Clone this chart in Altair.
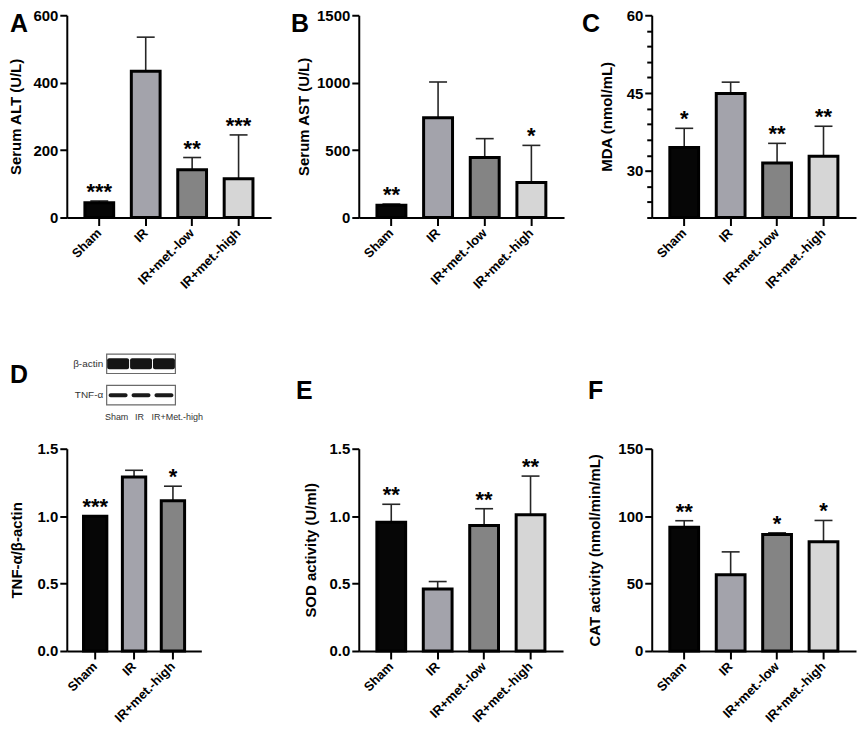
import altair as alt
import pandas as pd

FONT = "Liberation Sans"
BLOT_FONT = "Liberation Sans Narrow, Liberation Sans, sans-serif"

# ---------------- categories ----------------
groups4 = ["Sham", "IR", "IR+met.-low", "IR+met.-high"]
groups3 = ["Sham", "IR", "IR+met.-high"]
colors4 = ["#060606", "#a3a3ab", "#848484", "#d6d6d6"]
colors3 = ["#060606", "#a3a3ab", "#848484"]

# ---------------- panel A: serum ALT ----------------
alt_mean = [44, 434, 142, 115]
alt_err = [49, 535, 178, 245]
alt_stars = ["***", "", "**", "***"]
alt_ticks = [0, 200, 400, 600]

# ---------------- panel B: serum AST ----------------
ast_mean = [91, 740, 445, 260]
ast_err = [100, 1005, 585, 535]
ast_stars = ["**", "", "", "*"]
ast_ticks = [0, 500, 1000, 1500]

# ---------------- panel C: MDA ----------------
mda_mean = [34.5, 44.9, 31.5, 32.8]
mda_err = [38.2, 47.1, 35.3, 38.6]
mda_stars = ["*", "", "**", "**"]
mda_ticks = [21, 24, 27, 30, 33, 36, 39, 42, 45, 48, 51, 54, 57, 60]

# ---------------- panel D: TNF-a / b-actin ----------------
tnf_mean = [1.0, 1.29, 1.115]
tnf_err = [1.0, 1.34, 1.222]
tnf_stars = ["***", "", "*"]
ratio_ticks = [0, 0.5, 1.0, 1.5]

# ---------------- panel E: SOD ----------------
sod_mean = [0.955, 0.46, 0.93, 1.01]
sod_err = [1.088, 0.515, 1.055, 1.297]
sod_stars = ["**", "", "**", "**"]

# ---------------- panel F: CAT ----------------
cat_mean = [91.7, 56.5, 86.3, 81.0]
cat_err = [96.6, 73.5, 87.6, 96.8]
cat_stars = ["**", "", "*", "*"]
cat_ticks = [0, 50, 100, 150]

# ---------------- western blot inset ----------------
lanes = ["Sham", "IR", "IR+Met.-high"]
lane_pos = [1, 2, 3]
proteins = ["β-actin", "TNF-α"]


def letter_title(text, dx, dy):
    return alt.TitleParams(text=text, anchor="start", frame="group", orient="top",
                           baseline="top", offset=0, dx=dx, dy=dy, fontSize=25,
                           font=FONT, fontWeight="bold", color="black")


def panel(groups, colors, means, errs, stars, ytitle, domain, ticks, width,
          pad_in, pad_out, letter, ldx, ldy, title_pad, label_expr=None, fmt="d",
          tick_size=7):
    df = pd.DataFrame({"group": groups, "mean": means, "err": errs, "star": stars})
    xs = alt.X("group:N", sort=groups, title=None,
               scale=alt.Scale(paddingInner=pad_in, paddingOuter=pad_out),
               axis=alt.Axis(labelAngle=315, labelAlign="right", labelBaseline="middle",
                             labelPadding=5, labelFontSize=13, tickSize=8))
    axis_kw = dict(values=ticks, title=ytitle, titlePadding=title_pad, grid=False,
                   format=fmt, tickSize=tick_size)
    if label_expr:
        axis_kw["labelExpr"] = label_expr
    yaxis = alt.Axis(**axis_kw)
    yscale = alt.Scale(domain=domain, nice=False, zero=(domain[0] == 0))
    base = alt.Chart(df)
    err_line = base.mark_rule(color="#262626", strokeWidth=1.6).encode(
        x=xs, y=alt.Y("mean:Q", scale=yscale, axis=yaxis), y2="err:Q")
    cap = base.transform_filter("datum.err > datum.mean").mark_tick(
        color="#262626", thickness=1.6, size=18, orient="horizontal", opacity=1).encode(
        x=xs, y=alt.Y("err:Q", scale=yscale, axis=yaxis))
    bars = base.mark_bar(stroke="black", strokeWidth=3, opacity=1).encode(
        x=xs, y=alt.Y("mean:Q", scale=yscale, axis=yaxis), y2=alt.Y2Datum(domain[0]),
        color=alt.Color("group:N", scale=alt.Scale(domain=groups, range=colors), legend=None))
    stars_txt = base.mark_text(font=FONT, fontSize=22, fontWeight="bold",
                               baseline="alphabetic", dy=-2, color="black").encode(
        x=xs, y=alt.Y("err:Q", scale=yscale, axis=yaxis), text="star:N")
    return alt.layer(err_line, cap, bars, stars_txt).properties(
        width=width, height=203, title=letter_title(letter, ldx, ldy))


pA = panel(groups4, colors4, alt_mean, alt_err, alt_stars, "Serum ALT (U/L)",
           [0, 600], alt_ticks, 205, 0.38, 0.39, "A", -57, 29, 9)
pB = panel(groups4, colors4, ast_mean, ast_err, ast_stars, "Serum AST (U/L)",
           [0, 1500], ast_ticks, 206, 0.38, 0.39, "B", -68, 29, 5)
pC = panel(groups4, colors4, mda_mean, mda_err, mda_stars, "MDA (nmol/mL)",
           [21, 60], mda_ticks, 205, 0.38, 0.39, "C", -70, 29, 12,
           label_expr="datum.value % 15 === 0 ? datum.label : ''",
           tick_size={"condition": {"test": "datum.value % 15 === 0", "value": 7}, "value": 5})
pD = panel(groups3, colors3, tnf_mean, tnf_err, tnf_stars, "TNF-α/β-actin",
           [0, 1.5], ratio_ticks, 135, 0.4, 0.43, "D", -57, -54, 13, fmt=".1f")
pE = panel(groups4, colors4, sod_mean, sod_err, sod_stars, "SOD activity (U/ml)",
           [0, 1.5], ratio_ticks, 205, 0.38, 0.39, "E", -63, -38, 11, fmt=".1f")
pF = panel(groups4, colors4, cat_mean, cat_err, cat_stars, "CAT activity (nmol/min/mL)",
           [0, 150], cat_ticks, 205, 0.38, 0.39, "F", -64, -38, 15)

# ---------------- blot chart ----------------
blot_df = pd.DataFrame([{"protein": p, "lane": l, "pos": x}
                        for p in proteins for l, x in zip(lanes, lane_pos)])
box_df = pd.DataFrame({"protein": proteins})
lane_expr = " : ".join(f"datum.value === {x} ? '{l}'" for x, l in zip(lane_pos[:-1], lanes[:-1]))
lane_expr = lane_expr + f" : '{lanes[-1]}'"
blot_x = alt.Scale(domain=[-1.24, 3.5], nice=False, zero=False)
blot_xaxis = alt.Axis(values=lane_pos, labelExpr=lane_expr, title=None, domain=False,
                      ticks=False, grid=False, labelAngle=0, labelPadding=8,
                      labelFont=BLOT_FONT, labelFontWeight="normal", labelFontSize=9,
                      labelColor="#333333",
                      labelAlign={"condition": {"test": "datum.value === 3", "value": "left"},
                                  "value": "center"},
                      labelOffset={"condition": {"test": "datum.value === 3", "value": -13},
                                   "value": -2})
blot_y = alt.Y("protein:N", sort=proteins, axis=None,
               scale=alt.Scale(paddingInner=0.38, paddingOuter=0))

box = alt.Chart(box_df).mark_rect(fill="white", stroke="#6a6a6a", strokeWidth=1.2).encode(
    y=blot_y,
    x=alt.XDatum(lane_pos[0] - 0.5, type="quantitative", scale=blot_x, axis=blot_xaxis),
    x2=alt.X2Datum(lane_pos[-1] + 0.5))
beta_bands = alt.Chart(blot_df).transform_filter(alt.datum.protein == proteins[0]).mark_tick(
    orient="horizontal", thickness=11, size=22, color="#151515", opacity=1,
    cornerRadius=2).encode(
    x=alt.X("pos:Q", scale=blot_x, axis=blot_xaxis), y=blot_y)
tnf_bands = alt.Chart(blot_df).transform_filter(alt.datum.protein == proteins[1]).mark_tick(
    orient="horizontal", thickness=4, size=19, color="#1a1a1a", opacity=1,
    cornerRadius=2).encode(
    x=alt.X("pos:Q", scale=blot_x, axis=blot_xaxis), y=blot_y)
prot_labels = alt.Chart(box_df).mark_text(align="right", baseline="middle", fontSize=10,
                                          font=BLOT_FONT, color="#333333").encode(
    y=blot_y, x=alt.XDatum(lane_pos[0] - 0.65, type="quantitative", scale=blot_x),
    text="protein:N")
blot = alt.layer(box, beta_bands, tnf_bands, prot_labels).properties(width=109, height=51)


def spacer(h):
    return alt.Chart(pd.DataFrame({"v": [0]})).mark_point(opacity=0).encode(
        x=alt.value(0), y=alt.value(0)).properties(width=1, height=h)


chart = alt.concat(
    pA, pB, pC,
    spacer(49), spacer(49), spacer(49),
    blot, spacer(1), spacer(1),
    pD, pE, pF,
    columns=3, spacing={"row": 44, "column": 88}, bounds="flush", align="each",
    padding={"top": -2, "left": 0, "right": 0, "bottom": 0},
).resolve_scale(x="independent", y="independent", color="independent").configure_axis(
    labelFont=FONT, labelFontWeight="bold", labelFontSize=15, labelColor="black",
    titleFont=FONT, titleFontWeight="bold", titleFontSize=15, titleColor="black",
    domainColor="black", domainWidth=2, tickColor="black", tickWidth=2, tickSize=7,
    labelPadding=2, grid=False,
).configure_view(stroke="transparent")

chart.save("out.html", embed_options={"renderer": "svg", "actions": False})
